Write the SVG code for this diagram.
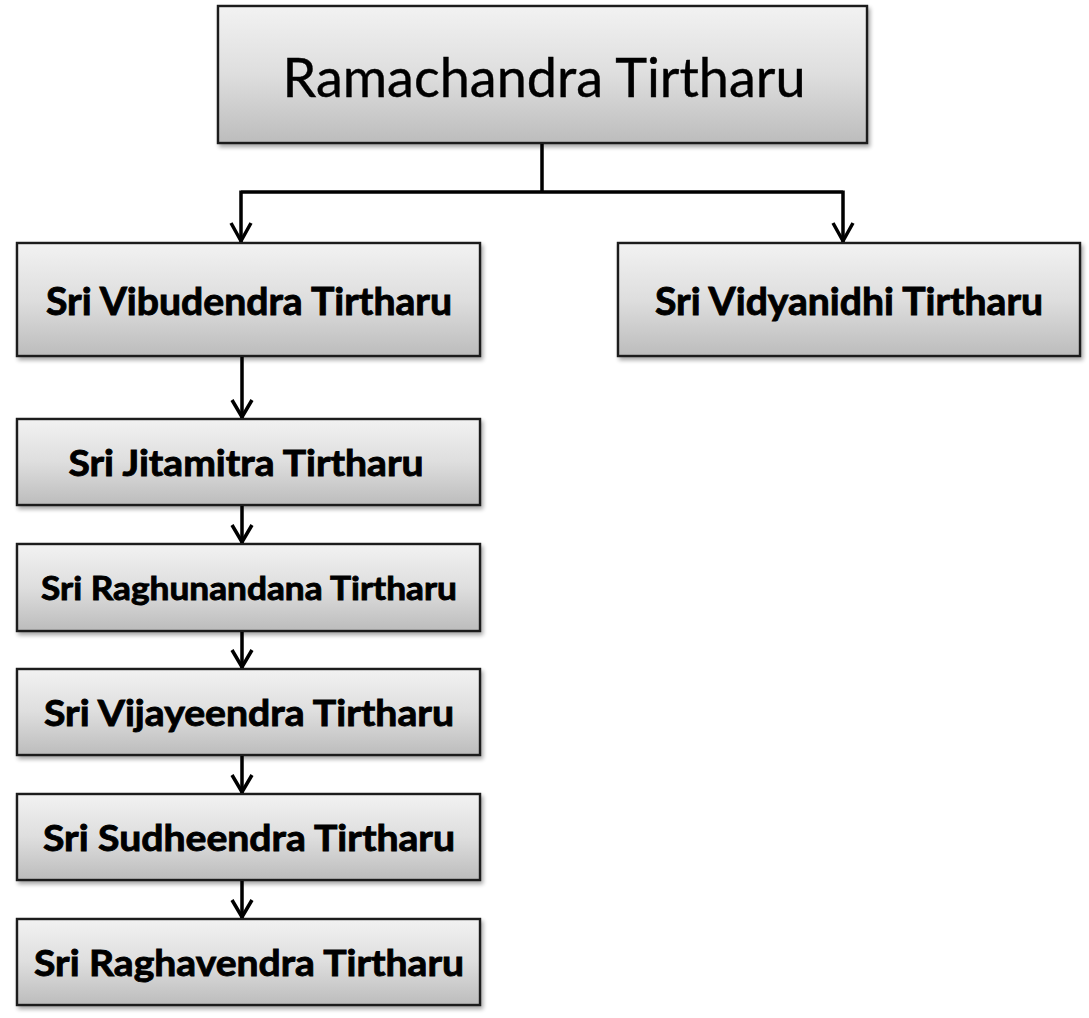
<svg xmlns="http://www.w3.org/2000/svg" width="1089" height="1018" viewBox="0 0 1089 1018">
<style>
.box{fill:url(#g);stroke:#1a1a1a;stroke-width:2.4;filter:url(#sh)}
.lbl{font-family:Lato,"Open Sans","Liberation Sans",sans-serif;font-weight:bold;fill:#000;stroke:#000;stroke-width:0.9;text-anchor:middle}
.ttl{font-family:Lato,"Open Sans","Liberation Sans",sans-serif;font-weight:normal;fill:#000;stroke:#000;stroke-width:0.4;text-anchor:middle}
.con{fill:none;stroke:#000;stroke-width:3.5}
</style>
<defs>
<linearGradient id="g" x1="0" y1="0" x2="0" y2="1">
<stop offset="0" stop-color="#f2f2f2"/>
<stop offset="0.5" stop-color="#dedede"/>
<stop offset="1" stop-color="#bcbcbc"/>
</linearGradient>
<filter id="sh" x="-5%" y="-10%" width="115%" height="130%">
<feGaussianBlur in="SourceAlpha" stdDeviation="2"/>
<feOffset dx="2" dy="3" result="b"/>
<feComponentTransfer><feFuncA type="linear" slope="0.35"/></feComponentTransfer>
<feMerge><feMergeNode/><feMergeNode in="SourceGraphic"/></feMerge>
</filter>
</defs>
<rect width="1089" height="1018" fill="#fff"/>
<g id="connectors">
<path class="con" d="M542 143 V192 M241 192 H843 M241 190.5 V242 M843 190.5 V242"/>
<path class="con" d="M242 356 V418 M242 505 V543 M242 631 V668 M242 755 V793 M242 880 V918"/>
<g class="con" stroke-linejoin="miter">
<polyline points="231,223 241,241 251,223"/>
<polyline points="833,223 843,241 853,223"/>
<polyline points="232,400 242,417 252,400"/>
<polyline points="232,525 242,542 252,525"/>
<polyline points="232,650 242,667 252,650"/>
<polyline points="232,775 242,792 252,775"/>
<polyline points="232,900 242,917 252,900"/>
</g>
</g>
<g id="n-ramachandra">
<rect class="box" x="218" y="6" width="649" height="137"/>
<text class="ttl" x="544" y="97" font-size="55" textLength="523" lengthAdjust="spacingAndGlyphs">Ramachandra Tirtharu</text>
</g>
<g id="n-vibudendra">
<rect class="box" x="17" y="243" width="463" height="113"/>
<text class="lbl" x="249" y="315" font-size="38" textLength="406" lengthAdjust="spacingAndGlyphs">Sri Vibudendra Tirtharu</text>
</g>
<g id="n-vidyanidhi">
<rect class="box" x="618" y="243" width="462" height="113"/>
<text class="lbl" x="849" y="315" font-size="38" textLength="388" lengthAdjust="spacingAndGlyphs">Sri Vidyanidhi Tirtharu</text>
</g>
<g id="n-jitamitra">
<rect class="box" x="17" y="419" width="463" height="86"/>
<text class="lbl" x="246" y="476" font-size="37" textLength="355" lengthAdjust="spacingAndGlyphs">Sri Jitamitra Tirtharu</text>
</g>
<g id="n-raghunandana">
<rect class="box" x="17" y="544" width="463" height="87"/>
<text class="lbl" x="249" y="600" font-size="33" textLength="416" lengthAdjust="spacingAndGlyphs">Sri Raghunandana Tirtharu</text>
</g>
<g id="n-vijayeendra">
<rect class="box" x="17" y="669" width="463" height="86"/>
<text class="lbl" x="249" y="726" font-size="37" textLength="410" lengthAdjust="spacingAndGlyphs">Sri Vijayeendra Tirtharu</text>
</g>
<g id="n-sudheendra">
<rect class="box" x="17" y="794" width="463" height="86"/>
<text class="lbl" x="249" y="851" font-size="37" textLength="412" lengthAdjust="spacingAndGlyphs">Sri Sudheendra Tirtharu</text>
</g>
<g id="n-raghavendra">
<rect class="box" x="17" y="919" width="463" height="86"/>
<text class="lbl" x="249" y="976" font-size="37" textLength="430" lengthAdjust="spacingAndGlyphs">Sri Raghavendra Tirtharu</text>
</g>
</svg>
